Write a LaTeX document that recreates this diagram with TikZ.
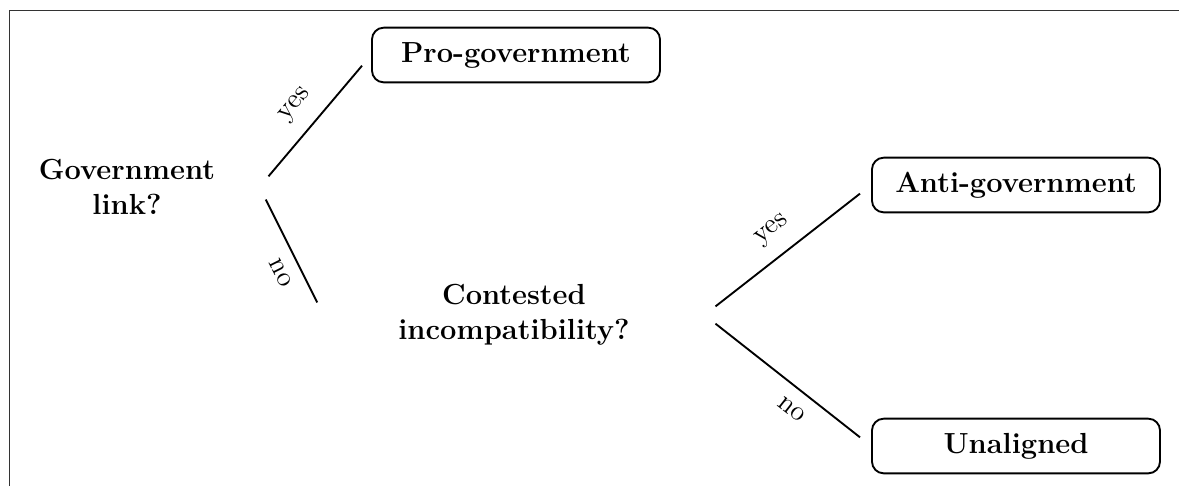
\documentclass[tikz,border=0pt]{standalone}
\tikzset{
  outcome/.style={draw,thick,rounded corners=5pt,font=\fontsize{12.4}{14.5}\selectfont\bfseries,
    minimum width=4.32cm,minimum height=0.82cm},
  question/.style={align=center,font=\fontsize{12.4}{14.8}\selectfont\bfseries},
  branch/.style={thick,shorten <=0.21cm,shorten >=0.21cm},
  answer/.style={font=\large,sloped}
}
\begin{document}
\begin{tikzpicture}[x=0.015cm,y=-0.015cm]

      \useasboundingbox (0,0) rectangle (1179,486);
      \draw[black!80,line width=0.8pt] (9.5,486) -- (9.5,10.5) -- (1179,10.5);

      \begin{scope}[every node/.style={question}]
        \node[minimum width=3.96cm] (gov) at (127,187) {Government\\link?};
        \node[minimum width=5.7cm]  (con) at (514,315) {Contested\\incompatibility?};
      \end{scope}

      \begin{scope}[every node/.style={outcome}]
        \node (pro)   at (516,55)   {Pro-government};
        \node (anti)  at (1016,185) {Anti-government};
        \node (unal)  at (1016,446) {Unaligned};
      \end{scope}

      \begin{scope}[every node/.style={answer}]
        \begin{scope}[every edge/.style={draw,branch}]
          \path (gov.east) edge node[above=3pt] {yes} (pro.west);
          \path (gov.east) edge node[pos=0.6,below=2pt] {no} (con.west);
          \path (con.east) edge node[above=3pt] {yes} (anti.west);
          \path (con.east) edge node[pos=0.6,below=2pt] {no} (unal.west);
        \end{scope}
      \end{scope}

    \end{tikzpicture}
\end{document}
